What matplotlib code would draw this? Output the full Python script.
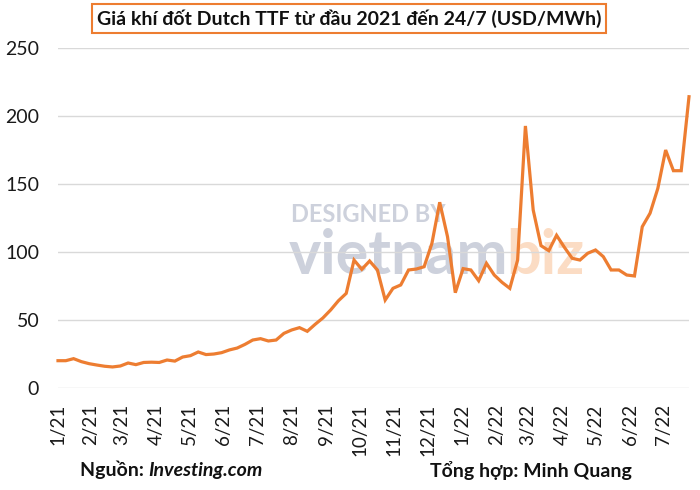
import pandas as pd
import matplotlib
matplotlib.use("Agg")
from matplotlib import pyplot as plt

# weekly Dutch TTF prices (USD/MWh), 3/1/2021 .. 24/7/2022
dates = pd.date_range("2021-01-03", "2022-07-24", freq="W-SUN")
prices = [
    20.3, 20.3, 21.8, 19.6, 18.1, 17.1, 16.2, 15.7, 16.4, 18.6,
    17.4, 19.0, 19.2, 19.0, 20.8, 20.0, 23.0, 24.0, 26.7, 24.8,
    25.2, 26.2, 28.2, 29.6, 32.3, 35.5, 36.5, 34.8, 35.5, 40.4,
    42.9, 44.6, 41.9, 47.0, 51.7, 57.6, 64.4, 69.8, 94.3, 87.5,
    93.6, 87.0, 64.9, 73.5, 76.0, 87.0, 87.7, 89.4, 106.6, 136.8,
    111.5, 70.3, 88.0, 87.0, 79.1, 91.9, 83.3, 77.9, 73.5, 94.3,
    192.9, 131.1, 104.9, 101.2, 112.5, 103.7, 95.6, 94.3, 99.3, 101.7,
    96.8, 87.0, 87.0, 83.3, 82.6, 118.8, 128.7, 147.0, 175.2, 160.0,
    160.0, 214.4,
]
month_labels = ["1/21", "2/21", "3/21", "4/21", "5/21", "6/21", "7/21", "8/21", "9/21",
                "10/21", "11/21", "12/21", "1/22", "2/22", "3/22", "4/22", "5/22", "6/22", "7/22"]
month_ticks = [dates[0]] + list(pd.date_range("2021-02-01", "2022-07-01", freq="MS"))
y_ticks = [0, 50, 100, 150, 200, 250]

orange = "#ED7D31"
plt.rcParams["font.family"] = ["Lato", "DejaVu Sans"]

fig = plt.figure(figsize=(7, 4.9), dpi=100)
ax = fig.add_axes([58 / 700, 1 - 388.3 / 490, 631 / 700, 340 / 490])
renderer = fig.canvas.get_renderer()

# watermark
ax.text(0.37, 0.51, "DESIGNED BY", transform=ax.transAxes, fontsize=17, fontweight="bold",
        color="#cdd1dc", ha="left", va="center", zorder=0)
wm = ax.text(0.365, 0.335, "vietnam", transform=ax.transAxes, fontsize=44, fontweight="bold",
             color="#cdd1dc", ha="left", va="baseline", zorder=0)
wb = wm.get_window_extent(renderer)
ax.text(wb.x1 - 2, wb.y0, "biz", transform=None, fontsize=44, fontweight="bold",
        color="#fbdcc4", ha="left", va="bottom", zorder=0)

ax.plot(dates, prices, color=orange, linewidth=2.3, zorder=3, clip_on=False,
        solid_joinstyle="miter")

ax.set_xlim(dates[0], dates[-1])
ax.set_ylim(0, 250)
ax.set_yticks(y_ticks)
ax.set_xticks(month_ticks)
ax.set_xticklabels(month_labels, rotation=90)
ax.grid(axis="y", color="#d9d9d9", linewidth=1)
ax.set_axisbelow(True)
for s in ax.spines.values():
    s.set_visible(False)
ax.tick_params(axis="y", length=0, pad=13.5, labelsize=14, labelcolor="#1a1a1a")
ax.tick_params(axis="x", length=0, pad=11, labelsize=13.5, labelcolor="#1a1a1a")

fig.text(349 / 700, 1 - 18.5 / 490, "Giá khí đốt Dutch TTF từ đầu 2021 đến 24/7 (USD/MWh)",
         ha="center", va="center", fontsize=14, fontweight="bold", color="#111111",
         bbox=dict(boxstyle="square,pad=0.25", facecolor="white", edgecolor=orange, linewidth=1.5))

# footer
t1 = fig.text(80 / 700, 1 - 470 / 490, "Nguồn: ", ha="left", va="center",
              fontsize=14, fontweight="bold", color="#111111")
bb = t1.get_window_extent(renderer)
fig.text(bb.x1 / fig.bbox.width, 1 - 470 / 490, "Investing.com", ha="left", va="center",
         fontsize=14, fontweight="bold", style="italic", color="#111111")
fig.text(430 / 700, 1 - 470 / 490, "Tổng hợp: Minh Quang", ha="left", va="center",
         fontsize=14, fontweight="bold", color="#111111")

fig.savefig("out.png", dpi=100)
